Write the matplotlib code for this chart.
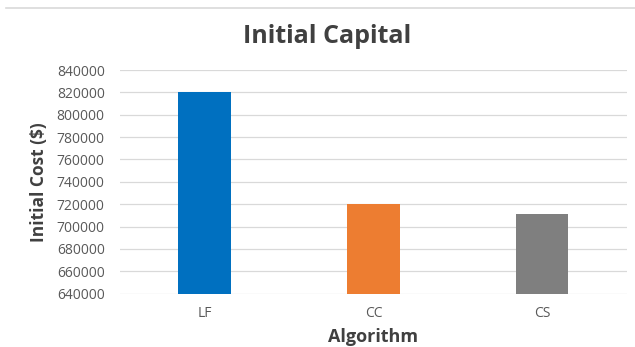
import matplotlib
matplotlib.use("Agg")
import matplotlib.pyplot as plt
from matplotlib.lines import Line2D

plt.rcParams['font.family'] = ['Open Sans', 'DejaVu Sans']

algorithms = ["LF", "CC", "CS"]
initial_cost = [820000, 720000, 711000]
bar_colors = ["#0070c0", "#ed7d31", "#7f7f7f"]
yticks = list(range(640000, 840001, 20000))

fig = plt.figure(figsize=(6.35, 3.47), dpi=100)
ax = fig.add_axes([0.189, 0.154, 0.798, 0.644])

ax.bar(algorithms, initial_cost, width=0.31, color=bar_colors, zorder=3)

ax.set_ylim(640000, 840000)
ax.set_xlim(-0.5, 2.5)
ax.set_yticks(yticks)
ax.set_yticklabels([str(v) for v in yticks])
ax.grid(axis='y', color='#d9d9d9', lw=0.9, zorder=0)
for s in ax.spines.values():
    s.set_visible(False)
ax.tick_params(length=0, labelsize=10, colors='#595959')
ax.tick_params(axis='y', pad=11)
ax.tick_params(axis='x', pad=9)

ax.set_xlabel("Algorithm", fontsize=13, fontweight='bold', color='#404040', labelpad=5)
ax.set_ylabel("Initial Cost ($)", fontsize=12.5, fontweight='bold', color='#404040', labelpad=6)
fig.text(0.515, 0.895, "Initial Capital", fontsize=18, fontweight='bold',
         color='#404040', ha='center', va='center')

fig.add_artist(Line2D([0.01, 1.0], [0.977, 0.977], transform=fig.transFigure,
                      color='#d9d9d9', lw=1.2))

fig.savefig("out.png", dpi=100)
